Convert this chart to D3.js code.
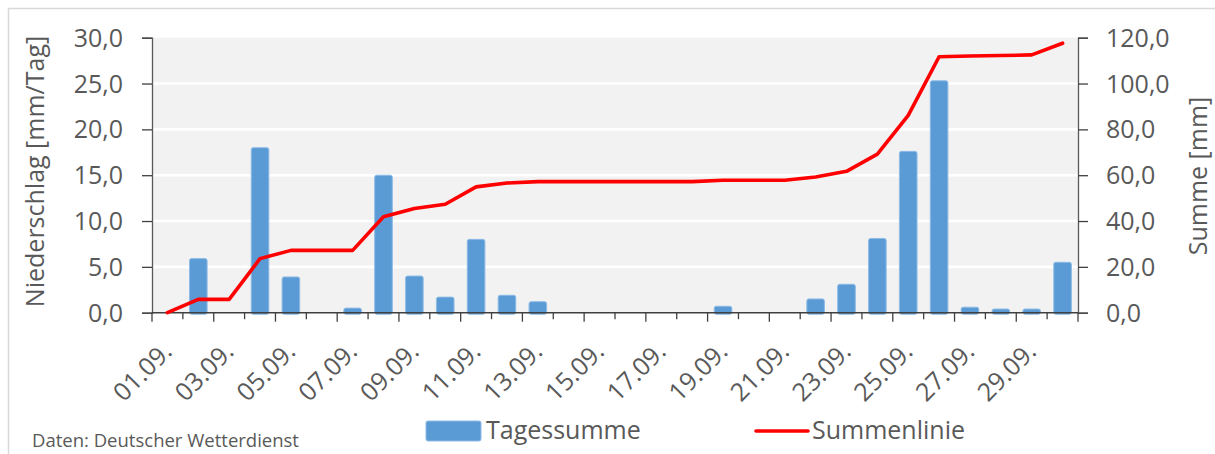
<!DOCTYPE html>
<meta charset="utf-8">
<html>
<head>
    <title>Niederschlag September</title>
    <script src="https://d3js.org/d3.v7.min.js"></script>
    <style>
        body { margin: 0; background: #fff; }
        text { font-family: "Open Sans", sans-serif; fill: #595959; }
    </style>
</head>
<body>
    <div class="chart"></div>
    <script>
    // data
    var tage = ["01.09.", "02.09.", "03.09.", "04.09.", "05.09.", "06.09.", "07.09.", "08.09.", "09.09.", "10.09.",
                "11.09.", "12.09.", "13.09.", "14.09.", "15.09.", "16.09.", "17.09.", "18.09.", "19.09.", "20.09.",
                "21.09.", "22.09.", "23.09.", "24.09.", "25.09.", "26.09.", "27.09.", "28.09.", "29.09.", "30.09."];
    var tagessumme = [0, 5.9, 0, 18.0, 3.9, 0, 0.5, 15.0, 4.0, 1.7,
                      8.0, 1.9, 1.2, 0, 0, 0, 0, 0, 0.7, 0,
                      0, 1.5, 3.1, 8.1, 17.6, 25.3, 0.6, 0.4, 0.4, 5.5];
    var summenlinie = [0, 5.8, 5.8, 23.6, 27.2, 27.2, 27.2, 41.9, 45.5, 47.3,
                       54.9, 56.6, 57.2, 57.2, 57.2, 57.2, 57.2, 57.2, 57.8, 57.8,
                       57.8, 59.2, 61.7, 69.2, 86.1, 111.7, 112.0, 112.2, 112.5, 117.6];
    var leftTicks = [0, 5, 10, 15, 20, 25, 30];
    var rightTicks = [0, 20, 40, 60, 80, 100, 120];

    var W = 1215, H = 454;
    var plot = {left: 152, right: 1078, top: 37.7, bottom: 312.7};
    var fmt = function(d){ return d3.format(".1f")(d).replace(".", ","); };

    var svg = d3.select(".chart").append("svg")
        .attr("width", W)
        .attr("height", H);

    // outer chart border
    svg.append("rect")
        .attr("x", 8.5).attr("y", 8.5)
        .attr("width", 1400).attr("height", 600)
        .style("fill", "#fff")
        .style("stroke", "#d9d9d9")
        .style("stroke-width", 1.5);

    var x = d3.scaleBand()
        .domain(tage)
        .range([plot.left, plot.right])
        .paddingInner(0.43)
        .paddingOuter(0.215);
    var step = x.step();
    var xc = function(d){ return x(d) + x.bandwidth() / 2; };

    var y = d3.scaleLinear().domain([0, 30]).range([plot.bottom, plot.top]);
    var y2 = d3.scaleLinear().domain([0, 120]).range([plot.bottom, plot.top]);

    // plot background + gridlines
    svg.append("rect")
        .attr("x", plot.left).attr("y", plot.top)
        .attr("width", plot.right - plot.left)
        .attr("height", plot.bottom - plot.top)
        .style("fill", "#f2f2f2");

    svg.selectAll(".grid")
        .data(leftTicks.slice(1, -1)).enter()
        .append("line")
        .attr("x1", plot.left).attr("x2", plot.right)
        .attr("y1", function(d){ return y(d); })
        .attr("y2", function(d){ return y(d); })
        .style("stroke", "#fff")
        .style("stroke-width", 2.6);

    // bars
    svg.selectAll(".bar")
        .data(tagessumme).enter()
        .append("rect")
        .attr("x", function(d, i){ return x(tage[i]); })
        .attr("y", function(d){ return y(d); })
        .attr("width", x.bandwidth())
        .attr("height", function(d){ return y(0) - y(d) + 1.5; })
        .attr("rx", 2).attr("ry", 2)
        .style("fill", function(d){ return d > 0 ? "#5b9bd5" : "none"; })
        .style("stroke", function(d){ return d > 0 ? "#8dbbe6" : "none"; })
        .style("stroke-width", 1);

    // axes
    var axisColor = "#595959";
    var yAxisL = d3.axisLeft(y).tickValues(leftTicks).tickSize(10).tickFormat("");
    var gL = svg.append("g").attr("transform", "translate(" + plot.left + ",0)").call(yAxisL);
    var yAxisR = d3.axisRight(y2).tickValues(rightTicks).tickSize(10).tickFormat("");
    var gR = svg.append("g").attr("transform", "translate(" + plot.right + ",0)").call(yAxisR);
    [gL, gR].forEach(function(g){
        g.select(".domain").style("stroke", axisColor).style("stroke-width", 1.3);
        g.selectAll(".tick line").style("stroke", "#404040").style("stroke-width", 1.3);
    });

    svg.selectAll(".ylabL")
        .data(leftTicks).enter()
        .append("text")
        .attr("x", plot.left - 29)
        .attr("y", function(d){ return y(d); })
        .attr("dy", "0.36em")
        .style("text-anchor", "end")
        .style("font-size", "25px")
        .text(fmt);

    svg.selectAll(".ylabR")
        .data(rightTicks).enter()
        .append("text")
        .attr("x", plot.right + 28)
        .attr("y", function(d){ return y2(d); })
        .attr("dy", "0.36em")
        .style("text-anchor", "start")
        .style("font-size", "25px")
        .text(fmt);

    // x axis with alternating tick lengths
    svg.append("line")
        .attr("x1", plot.left).attr("x2", plot.right)
        .attr("y1", plot.bottom).attr("y2", plot.bottom)
        .style("stroke", "#404040").style("stroke-width", 1.5);
    svg.selectAll(".xtick")
        .data(d3.range(tage.length + 1)).enter()
        .append("line")
        .attr("x1", function(k){ return plot.left + k * step; })
        .attr("x2", function(k){ return plot.left + k * step; })
        .attr("y1", plot.bottom)
        .attr("y2", function(k){ return plot.bottom + (k % 2 === 0 ? 9 : 6.5); })
        .style("stroke", "#404040").style("stroke-width", 1.3);

    svg.selectAll(".xlab")
        .data(tage.filter(function(d, i){ return i % 2 === 0; })).enter()
        .append("text")
        .attr("transform", function(d){ return "translate(" + (xc(d) + 6) + "," + 353 + ") rotate(-45)"; })
        .style("text-anchor", "end")
        .style("font-size", "25px")
        .text(function(d){ return d; });

    // line
    var line = d3.line()
        .x(function(d, i){ return xc(tage[i]); })
        .y(function(d){ return y2(d); });
    svg.append("path")
        .datum(summenlinie)
        .attr("d", line)
        .style("fill", "none")
        .style("stroke", "#ff0000")
        .style("stroke-width", 3.6)
        .style("stroke-linejoin", "round")
        .style("stroke-linecap", "round");

    // axis titles
    svg.append("text")
        .attr("transform", "translate(43.5," + 171.5 + ") rotate(-90)")
        .style("text-anchor", "middle")
        .style("font-size", "25px")
        .text("Niederschlag [mm/Tag]");
    svg.append("text")
        .attr("transform", "translate(1207," + 176 + ") rotate(-90)")
        .style("text-anchor", "middle")
        .style("font-size", "25px")
        .text("Summe [mm]");

    // legend
    svg.append("rect")
        .attr("x", 426).attr("y", 421)
        .attr("width", 55).attr("height", 20)
        .attr("rx", 2)
        .style("fill", "#5b9bd5")
        .style("stroke", "#8dbbe6");
    svg.append("text")
        .attr("x", 486).attr("y", 438.5)
        .style("font-size", "25px")
        .text("Tagessumme");
    svg.append("line")
        .attr("x1", 756).attr("x2", 808)
        .attr("y1", 431).attr("y2", 431)
        .style("stroke", "#ff0000")
        .style("stroke-width", 3.6)
        .style("stroke-linecap", "round");
    svg.append("text")
        .attr("x", 812).attr("y", 438.5)
        .style("font-size", "25px")
        .text("Summenlinie");

    // source note
    svg.append("text")
        .attr("x", 32).attr("y", 446.5)
        .style("font-size", "18.5px")
        .text("Daten: Deutscher Wetterdienst");
    </script>
</body>
</html>
